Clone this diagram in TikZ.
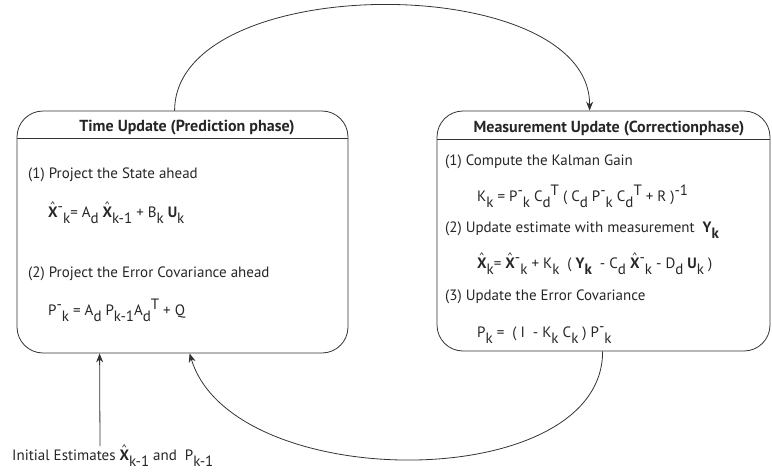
\documentclass[tikz,border=0pt]{standalone}
\usepackage{fontspec}
\setmainfont{PT Sans}
\usetikzlibrary{arrows.meta,calc}
\newcommand\sbb[1]{\raisebox{-6pt}{#1}}
\newcommand\spp[1]{\raisebox{6pt}{#1}}
\newsavebox\xbox
\newcommand\Xh{\sbox\xbox{\textbf{X}}\makebox[0pt][l]{\makebox[\wd\xbox]{\raisebox{7.5pt}{\fontsize{11}{11}\selectfont\textasciicircum}}}\usebox\xbox}
\begin{document}
\begin{tikzpicture}[x=1pt,y=-1pt,
  box/.style={draw=black!80, line width=0.8pt, rounded corners=26pt},
  arr/.style={draw=black!80, line width=0.8pt, -{Stealth[length=9pt,width=7pt]}},
  txt/.style={anchor=base west, inner sep=0pt, text=black!85, font=\fontsize{15}{17}\selectfont},
  hdr/.style={anchor=base, inner sep=0pt, text=black!85, font=\fontsize{16}{18}\selectfont\bfseries}]
\useasboundingbox (0,0) rectangle (772,474);
% boxes
\node[box, minimum width=331pt, minimum height=242pt] (L) at (182.5,232) {};
\node[box, minimum width=333pt, minimum height=240pt] (R) at (603.5,231) {};
\draw[black!80, line width=0.8pt] (L.west |- 0,138) -- (L.east |- 0,138);
\draw[black!80, line width=0.8pt] (R.west |- 0,139) -- (R.east |- 0,139);
% left contents
\node[hdr] (lh) at (187,131) {Time Update (Prediction phase)};
\node[txt] (l1) at (28,178) {(1) Project the State ahead};
\node[txt] (le1) at (48,217) {\Xh\spp{-}\sbb{k}= A\sbb{d} \Xh\sbb{k-1} + B\sbb{k} \textbf{U}\sbb{k}};
\node[txt] (l2) at (28,277) {(2) Project the Error Covariance ahead};
\node[txt] (le2) at (48,315) {P\spp{-}\sbb{k} = A\sbb{d} P\sbb{k-1}A\sbb{d}\spp{T} + Q};
% right contents
\node[hdr] (rh) at (609,132) {Measurement Update (Correctionphase)};
\node[txt] (r1) at (445,165) {(1) Compute the Kalman Gain};
\node[txt] (re1) at (477,201) {K\sbb{k} = P\spp{-}\sbb{k} C\sbb{d}\spp{T} ( C\sbb{d} P\spp{-}\sbb{k} C\sbb{d}\spp{T} + R )\spp{-1}};
\node[txt] (r2) at (445,232) {(2) Update estimate with measurement \ \textbf{Y}\sbb{\textbf{k}}};
\node[txt] (re2) at (477,268) {\Xh\sbb{k}= \Xh\spp{-}\sbb{k} + K\sbb{k} \ ( \textbf{Y}\sbb{\textbf{k}} \ - C\sbb{d} \Xh\spp{-}\sbb{k} - D\sbb{d} \textbf{U}\sbb{k} )};
\node[txt] (r3) at (445,300) {(3) Update the Error Covariance};
\node[txt] (re3) at (477,337) {P\sbb{k} = \ ( I \ - K\sbb{k} C\sbb{k} ) P\spp{-}\sbb{k}};
% initial
\node[txt] (init) at (12,460) {Initial Estimates \Xh\sbb{k-1} and \ P\sbb{k-1}};
\coordinate (i0) at (100,446);
% connectors
\draw[arr] ([xshift=158pt]L.north west) .. controls (175,-30) and (590,-30) .. ([xshift=153pt]R.north west);
\draw[arr] ([xshift=166pt]R.south west) .. controls (603,495) and (232,495) .. ([xshift=173pt]L.south west);
\draw[arr] (i0) -- ([xshift=83pt]L.south west);
\end{tikzpicture}
\end{document}
